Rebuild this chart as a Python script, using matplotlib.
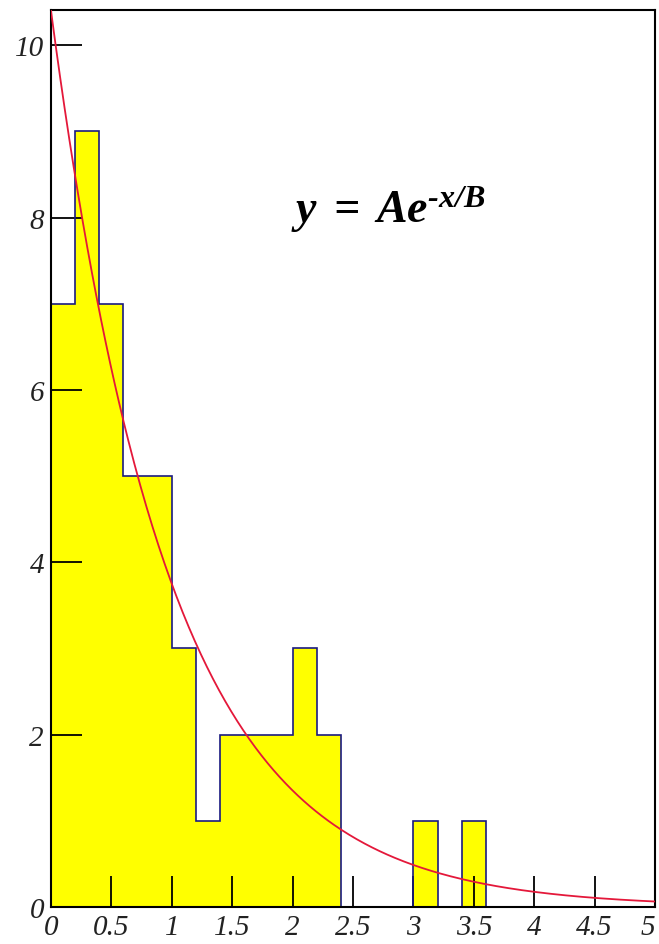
import numpy as np
import matplotlib.pyplot as plt

# histogram: bin edges 0..5 in steps of 0.2
edges = np.round(np.arange(0, 5.01, 0.2), 1)
counts = [7, 9, 7, 5, 5, 3, 1, 2, 2, 2, 3, 2,
          0, 0, 0, 1, 0, 1, 0, 0, 0, 0, 0, 0, 0]

# fitted exponential y = A*exp(-x/B)
A = 10.4
B = 0.98

xticks = [0, 0.5, 1, 1.5, 2, 2.5, 3, 3.5, 4, 4.5, 5]
xlabels = ['0', '0.5', '1', '1.5', '2', '2.5', '3', '3.5', '4', '4.5', '5']
yticks = [0, 2, 4, 6, 8, 10]

plt.rcParams['font.family'] = ['Liberation Serif', 'DejaVu Serif']
plt.rcParams['mathtext.fontset'] = 'custom'
plt.rcParams['mathtext.bf'] = 'Liberation Serif:bold:italic'
plt.rcParams['mathtext.rm'] = 'Liberation Serif:bold:italic'
plt.rcParams['mathtext.it'] = 'Liberation Serif:bold:italic'

fig = plt.figure(figsize=(6.59, 9.45), dpi=100)
ax = fig.add_axes([0.0774, 0.0392, 0.9166, 0.9492])

ax.stairs(counts, edges, fill=True, color='#ffff00', zorder=1)
ax.stairs(counts, edges, baseline=0, color='#1a1a80', lw=1.2, zorder=2)

xf = np.linspace(0, 5, 400)
ax.plot(xf, A * np.exp(-xf / B), color='#e4183a', lw=1.3, zorder=3)

ax.text(2.79, 8.1, r'$\mathbf{y\;=\;Ae^{\text{-}x/B}}$', fontsize=33, ha='center', va='center')

ax.set_xlim(0, 5)
ax.set_ylim(0, 10.41)
ax.set_xticks(xticks)
ax.set_xticklabels(xlabels)
ax.set_yticks(yticks)
ax.tick_params(direction='in', length=22, width=1.3, labelsize=21, pad=5)
for lab in ax.get_xticklabels() + ax.get_yticklabels():
    lab.set_fontstyle('italic')
    lab.set_color('#222222')
# keep the last x label inside the figure
ax.get_xticklabels()[-1].set_horizontalalignment('right')
for s in ax.spines.values():
    s.set_linewidth(1.5)

fig.savefig('out.png', dpi=100)
